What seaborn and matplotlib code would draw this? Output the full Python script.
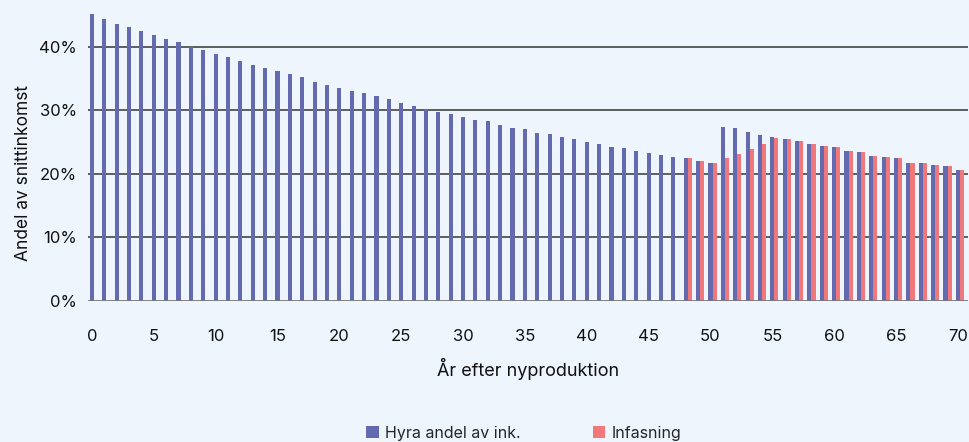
import numpy as np
import pandas as pd
import matplotlib.pyplot as plt
import seaborn as sns

# andel av snittinkomst, %, per år efter nyproduktion
years = list(range(0, 71))
hyra = [45.2, 44.4, 43.6, 43.1, 42.5, 41.9, 41.2, 40.8, 40.0, 39.5,
        38.9, 38.4, 37.8, 37.2, 36.7, 36.2, 35.8, 35.3, 34.5, 34.0,
        33.6, 33.1, 32.8, 32.3, 31.8, 31.2, 30.7, 30.2, 29.8, 29.5,
        29.0, 28.5, 28.4, 27.7, 27.2, 27.1, 26.5, 26.3, 25.8, 25.5,
        25.1, 24.8, 24.3, 24.1, 23.6, 23.3, 23.0, 22.6, 22.45, 22.1,
        21.7, 27.4, 27.2, 26.6, 26.1, 25.9, 25.5, 25.2, 24.7, 24.4,
        24.2, 23.7, 23.4, 22.9, 22.6, 22.45, 21.8, 21.7, 21.4, 21.2,
        20.7]
infasning = [np.nan] * 48 + [22.45, 22.1, 21.7, 22.45, 23.1, 23.9, 24.8, 25.6,
                             25.5, 25.2, 24.7, 24.4, 24.2, 23.7, 23.4, 22.9,
                             22.6, 22.45, 21.8, 21.7, 21.4, 21.2, 20.7]
series_names = ['Hyra andel av ink.', 'Infasning']
colors = ['#646AB0', '#F0777A']
bg = '#EEF5FD'

df = pd.DataFrame({'year': years, series_names[0]: hyra, series_names[1]: infasning})
df = df.melt(id_vars='year', var_name='serie', value_name='andel')
df['andel'] = df['andel'] / 100

sns.set_style('white')
plt.rcParams['font.family'] = ['Inter', 'DejaVu Sans']

fig = plt.figure(figsize=(9.7, 4.42), dpi=100, facecolor=bg)
ax = fig.add_axes([0.0907, 0.319, 0.907, 0.681])
ax.set_facecolor(bg)

bw = 0.66
sns.barplot(data=df, x='year', y='andel', hue='serie', palette=colors,
            width=bw, dodge=True, saturation=1, linewidth=0, ax=ax, legend=True)

# ticks sit under the first (blue) bar of each group
shift = -bw / 4
ax.set_ylim(0, 0.474)
ax.set_xlim(shift - 0.32, 70 + shift + 0.8)
ax.set_yticks([0, 0.1, 0.2, 0.3, 0.4])
ax.set_yticklabels(['0%', '10%', '20%', '30%', '40%'])
ax.set_xticks([y + shift for y in range(0, 71, 5)])
ax.set_xticklabels([str(y) for y in range(0, 71, 5)])
ax.tick_params(axis='both', length=0, labelsize=12, colors='#111111')
ax.tick_params(axis='x', pad=20)
ax.tick_params(axis='y', pad=8)

for v in [0.1, 0.2, 0.3, 0.4]:
    ax.axhline(v, color='#444444', lw=1.2, zorder=0.5)
ax.axhline(0, color='#777777', lw=2, zorder=3)

for s in ax.spines.values():
    s.set_visible(False)

ax.set_xlabel('År efter nyproduktion', fontsize=13, labelpad=10, color='#111111')
ax.set_ylabel('Andel av snittinkomst', fontsize=12.5, color='#111111')
ax.yaxis.set_label_coords(-0.064, 0.425)

handles, labels = ax.get_legend_handles_labels()
ax.get_legend().remove()
fig.legend(handles, labels, loc='center', bbox_to_anchor=(0.54, 0.02), ncol=2,
           frameon=False, fontsize=11.5, handlelength=0.8, handleheight=0.8,
           handletextpad=0.4, columnspacing=4.5)

fig.savefig('out.png', dpi=100, facecolor=bg)
